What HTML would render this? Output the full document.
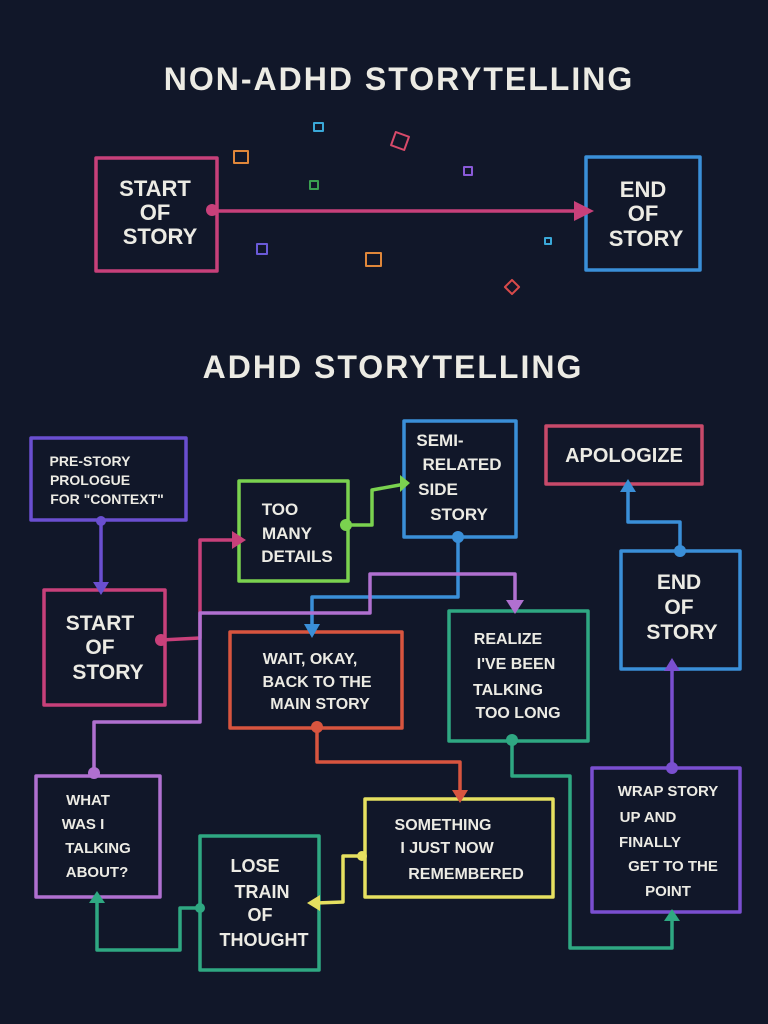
<!DOCTYPE html>
<html><head><meta charset="utf-8"><style>
html,body{margin:0;padding:0;background:#111729;}
svg{display:block}
text{font-family:"Liberation Sans",sans-serif;fill:#ecebe4;text-anchor:middle;font-weight:bold;}
</style></head><body>
<svg width="768" height="1024" viewBox="0 0 768 1024" xmlns="http://www.w3.org/2000/svg">
<rect width="768" height="1024" fill="#111729"/>
<g fill="none" stroke-width="3.5" stroke-linejoin="round" stroke-linecap="round">
<!-- top -->
<rect x="96" y="158" width="121" height="113" stroke="#c8407a"/>
<rect x="586" y="157" width="114" height="113" stroke="#3a8fd8"/>
<line x1="212" y1="211" x2="580" y2="211" stroke="#c8407a"/>
<!-- confetti -->
<rect x="234" y="151" width="14" height="12" stroke="#e0873a" stroke-width="2"/>
<rect x="314" y="123" width="9" height="8" stroke="#3aa8d8" stroke-width="2"/>
<rect x="393" y="134" width="14" height="14" stroke="#d84a6a" stroke-width="2" transform="rotate(20 400 141)"/>
<rect x="310" y="181" width="8" height="8" stroke="#3aa050" stroke-width="2"/>
<rect x="464" y="167" width="8" height="8" stroke="#8a5ad8" stroke-width="2"/>
<rect x="257" y="244" width="10" height="10" stroke="#6a5ad8" stroke-width="2"/>
<rect x="366" y="253" width="15" height="13" stroke="#e0873a" stroke-width="2"/>
<rect x="545" y="238" width="6" height="6" stroke="#3aa8d8" stroke-width="2"/>
<rect x="507" y="282" width="10" height="10" stroke="#d84a4a" stroke-width="2" transform="rotate(45 512 287)"/>
<!-- ADHD boxes -->
<rect x="31" y="438" width="155" height="82" stroke="#6a4fd0"/>
<rect x="44" y="590" width="121" height="115" stroke="#c8407a"/>
<rect x="239" y="481" width="109" height="100" stroke="#7ad24f"/>
<rect x="404" y="421" width="112" height="116" stroke="#3a8fd8"/>
<rect x="546" y="426" width="156" height="58" stroke="#c84a6a"/>
<rect x="621" y="551" width="119" height="118" stroke="#3a8fd8"/>
<rect x="230" y="632" width="172" height="96" stroke="#d8553f"/>
<rect x="449" y="611" width="139" height="130" stroke="#2fa882"/>
<rect x="36" y="776" width="124" height="121" stroke="#b070d0"/>
<rect x="200" y="836" width="119" height="134" stroke="#2fa882"/>
<rect x="365" y="799" width="188" height="98" stroke="#e6e060"/>
<rect x="592" y="768" width="148" height="144" stroke="#7a4fd0"/>
<!-- connectors -->
<polyline points="101,521 101,585" stroke="#6a4fd0"/>
<polyline points="161,640 200,638 200,540 236,540" stroke="#c8407a"/>
<polyline points="346,525 372,525 372,490 405,484" stroke="#7ad24f"/>
<polyline points="458,537 458,597 312,597 312,628" stroke="#3a8fd8"/>
<polyline points="94,773 94,722 200,722 200,613 370,613 370,574 515,574 515,606" stroke="#b070d0"/>
<polyline points="317,727 317,762 460,762 460,795" stroke="#d8553f"/>
<polyline points="362,856 343,856 343,902 316,903" stroke="#e6e060"/>
<polyline points="200,908 180,908 180,950 97,950 97,898" stroke="#2fa882"/>
<polyline points="512,740 512,776 570,776 570,948 672,948 672,916" stroke="#2fa882"/>
<polyline points="672,768 672,665" stroke="#7a4fd0"/>
<polyline points="680,551 680,522 628,522 628,487" stroke="#3a8fd8"/>
</g>
<!-- dots & arrowheads -->
<g stroke="none">
<circle cx="212" cy="210" r="6" fill="#c8407a"/><polygon points="574,201 594,211 574,221" fill="#c8407a"/>
<circle cx="101" cy="521" r="5" fill="#6a4fd0"/><polygon points="93,582 109,582 101,595" fill="#6a4fd0"/>
<circle cx="161" cy="640" r="6" fill="#c8407a"/><polygon points="232,531 246,540 232,549" fill="#c8407a"/>
<circle cx="346" cy="525" r="6" fill="#7ad24f"/><polygon points="400,475 410,483 400,492" fill="#7ad24f"/>
<circle cx="458" cy="537" r="6" fill="#3a8fd8"/><polygon points="304,624 320,624 312,638" fill="#3a8fd8"/>
<circle cx="94" cy="773" r="6" fill="#b070d0"/><polygon points="506,600 524,600 515,614" fill="#b070d0"/>
<circle cx="317" cy="727" r="6" fill="#d8553f"/><polygon points="452,790 468,790 460,803" fill="#d8553f"/>
<circle cx="362" cy="856" r="5" fill="#e6e060"/><polygon points="320,895 320,911 307,903" fill="#e6e060"/>
<circle cx="200" cy="908" r="5" fill="#2fa882"/><polygon points="89,903 105,903 97,891" fill="#2fa882"/>
<circle cx="512" cy="740" r="6" fill="#2fa882"/><polygon points="664,921 680,921 672,909" fill="#2fa882"/>
<circle cx="672" cy="768" r="6" fill="#7a4fd0"/><polygon points="664,671 680,671 672,658" fill="#7a4fd0"/>
<circle cx="680" cy="551" r="6" fill="#3a8fd8"/><polygon points="620,492 636,492 628,479" fill="#3a8fd8"/>
</g>
<!-- titles -->
<text x="399" y="90" font-size="32" letter-spacing="2">NON-ADHD STORYTELLING</text>
<text x="393" y="378" font-size="32" letter-spacing="2">ADHD STORYTELLING</text>
<!-- top box text -->
<text font-size="22"><tspan x="155" y="196">START</tspan><tspan x="155" y="220">OF</tspan><tspan x="160" y="244">STORY</tspan></text>
<text font-size="22"><tspan x="643" y="197">END</tspan><tspan x="643" y="221">OF</tspan><tspan x="646" y="246">STORY</tspan></text>
<!-- ADHD text -->
<text font-size="14"><tspan x="90" y="466">PRE-STORY</tspan><tspan x="90" y="485">PROLOGUE</tspan><tspan x="107" y="504">FOR "CONTEXT"</tspan></text>
<text font-size="21"><tspan x="100" y="630">START</tspan><tspan x="100" y="654">OF</tspan><tspan x="108" y="679">STORY</tspan></text>
<text font-size="17"><tspan x="280" y="515">TOO</tspan><tspan x="287" y="539">MANY</tspan><tspan x="297" y="562">DETAILS</tspan></text>
<text font-size="17"><tspan x="440" y="446">SEMI-</tspan><tspan x="462" y="470">RELATED</tspan><tspan x="438" y="495">SIDE</tspan><tspan x="459" y="520">STORY</tspan></text>
<text font-size="20" x="624" y="462">APOLOGIZE</text>
<text font-size="21"><tspan x="679" y="589">END</tspan><tspan x="679" y="614">OF</tspan><tspan x="682" y="639">STORY</tspan></text>
<text font-size="16"><tspan x="310" y="664">WAIT, OKAY,</tspan><tspan x="317" y="687">BACK TO THE</tspan><tspan x="320" y="709">MAIN STORY</tspan></text>
<text font-size="16"><tspan x="508" y="644">REALIZE</tspan><tspan x="516" y="669">I'VE BEEN</tspan><tspan x="508" y="695">TALKING</tspan><tspan x="518" y="718">TOO LONG</tspan></text>
<text font-size="15"><tspan x="88" y="805">WHAT</tspan><tspan x="83" y="829">WAS I</tspan><tspan x="98" y="853">TALKING</tspan><tspan x="97" y="877">ABOUT?</tspan></text>
<text font-size="18"><tspan x="255" y="872">LOSE</tspan><tspan x="262" y="898">TRAIN</tspan><tspan x="260" y="921">OF</tspan><tspan x="264" y="946">THOUGHT</tspan></text>
<text font-size="16"><tspan x="443" y="830">SOMETHING</tspan><tspan x="447" y="853">I JUST NOW</tspan><tspan x="466" y="879">REMEMBERED</tspan></text>
<text font-size="15"><tspan x="668" y="796">WRAP STORY</tspan><tspan x="648" y="822">UP AND</tspan><tspan x="650" y="847">FINALLY</tspan><tspan x="673" y="871">GET TO THE</tspan><tspan x="668" y="896">POINT</tspan></text>
</svg>
</body></html>
